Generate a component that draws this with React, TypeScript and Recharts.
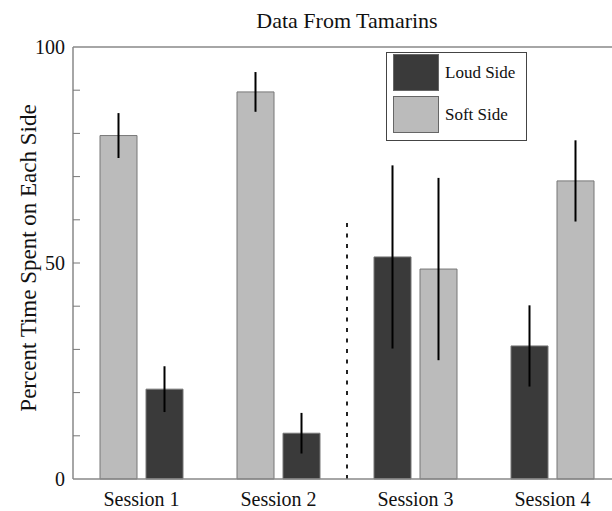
import React from "react";
import {
  BarChart,
  Bar,
  Cell,
  XAxis,
  YAxis,
  ErrorBar,
  ReferenceLine,
  Legend,
} from "recharts";

// values (percent of time)
const SESSIONS = ["Session 1", "Session 2", "Session 3", "Session 4"];
const LOUD = [20.8, 10.6, 51.4, 30.8];
const LOUD_ERR = [5.3, 4.7, 21.2, 9.4];
const SOFT = [79.5, 89.6, 48.6, 69.0];
const SOFT_ERR = [5.2, 4.6, 21.1, 9.4];
// sessions 1-2 have soft side drawn first, 3-4 loud side first
const LOUD_FIRST = [false, false, true, true];
const Y_TICKS = [0, 10, 20, 30, 40, 50, 60, 70, 80, 90, 100];
const Y_LABELED = [0, 50, 100];
const LEGEND_ITEMS = [
  { key: "loud", label: "Loud Side" },
  { key: "soft", label: "Soft Side" },
];

const COLORS: Record<string, string> = { loud: "#3a3a3a", soft: "#bbbbbb" };
const FONT = "'Liberation Serif', 'Times New Roman', serif";

const rows = SESSIONS.map((session, i) => {
  const loud = { v: LOUD[i], e: LOUD_ERR[i], kind: "loud" };
  const soft = { v: SOFT[i], e: SOFT_ERR[i], kind: "soft" };
  const [a, b] = LOUD_FIRST[i] ? [loud, soft] : [soft, loud];
  return {
    session,
    left: a.v,
    leftErr: a.e,
    leftKind: a.kind,
    right: b.v,
    rightErr: b.e,
    rightKind: b.kind,
  };
});

function YTick(props: any) {
  const { x, y, payload } = props;
  const v = payload.value;
  return (
    <g>
      {v !== 0 && v !== 100 && (
        <line x1={x} x2={x + 7} y1={y} y2={y} stroke="#777" strokeWidth={1} />
      )}
      {Y_LABELED.includes(v) && (
        <text
          x={x - 8}
          y={y}
          textAnchor="end"
          dominantBaseline="central"
          fontSize={20}
          fontFamily={FONT}
          fill="#111"
        >
          {v}
        </text>
      )}
    </g>
  );
}

function LegendBox() {
  return (
    <div
      style={{
        width: 141,
        height: 89,
        boxSizing: "border-box",
        border: "1.5px solid #444",
        background: "#fff",
        fontFamily: FONT,
        fontSize: 17,
        color: "#111",
      }}
    >
      {LEGEND_ITEMS.map((it, i) => (
        <div
          key={it.key}
          style={{
            position: "absolute",
            left: 7,
            top: 2 + i * 42,
            display: "flex",
            alignItems: "center",
          }}
        >
          <div
            style={{
              width: 46,
              height: 37,
              boxSizing: "border-box",
              background: COLORS[it.key],
              border: "1px solid #666",
              marginRight: 6,
            }}
          />
          <span>{it.label}</span>
        </div>
      ))}
    </div>
  );
}

export default function App() {
  return (
    <div
      style={{
        position: "absolute",
        left: 0,
        top: 0,
        width: 612,
        height: 511,
        overflow: "hidden",
        background: "#fff",
      }}
    >
      <BarChart
        width={630}
        height={511}
        data={rows}
        margin={{ top: 47, right: 9, bottom: 0, left: 23 }}
        barGap={9}
      >
        <text x={347} y={28} textAnchor="middle" fontSize={22} fontFamily={FONT} fill="#111">
          Data From Tamarins
        </text>
        <text
          x={36}
          y={258}
          transform="rotate(-90, 36, 258)"
          textAnchor="middle"
          fontSize={23}
          fontFamily={FONT}
          fill="#111"
        >
          Percent Time Spent on Each Side
        </text>
        <XAxis
          dataKey="session"
          height={32}
          tickLine={false}
          tickSize={0}
          tickMargin={13}
          axisLine={{ stroke: "#888", strokeWidth: 1.5 }}
          tick={{ fontSize: 20, fontFamily: FONT, fill: "#111" }}
        />
        <YAxis
          width={50}
          domain={[0, 100]}
          ticks={Y_TICKS}
          interval={0}
          tickLine={false}
          tickSize={0}
          tickMargin={0}
          axisLine={{ stroke: "#888", strokeWidth: 1.5 }}
          tick={<YTick />}
        />
        <ReferenceLine y={100} stroke="#888" strokeWidth={1.5} />
        <ReferenceLine
          segment={[
            { x: "Session 3", y: 0 },
            { x: "Session 3", y: 59.5 },
          ]}
          position="start"
          stroke="#222"
          strokeWidth={2}
          strokeDasharray="4 6.5"
        />
        <Bar dataKey="left" barSize={37} stroke="#777" strokeWidth={1} isAnimationActive={false}>
          {rows.map((r, i) => (
            <Cell key={`l-${i}`} fill={COLORS[r.leftKind]} />
          ))}
          <ErrorBar dataKey="leftErr" width={0} stroke="#000" strokeWidth={2} direction="y" />
        </Bar>
        <Bar dataKey="right" barSize={37} stroke="#777" strokeWidth={1} isAnimationActive={false}>
          {rows.map((r, i) => (
            <Cell key={`r-${i}`} fill={COLORS[r.rightKind]} />
          ))}
          <ErrorBar dataKey="rightErr" width={0} stroke="#000" strokeWidth={2} direction="y" />
        </Bar>
        <Legend
          layout="horizontal"
          verticalAlign="middle"
          align="center"
          content={<LegendBox />}
          wrapperStyle={{ position: "absolute", top: 52, left: 386, width: 141, height: 89 }}
        />
      </BarChart>
    </div>
  );
}
